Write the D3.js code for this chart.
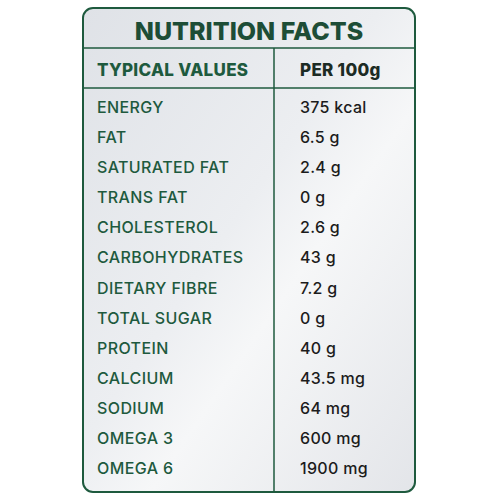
<!DOCTYPE html>
<html><head><meta charset="utf-8">
<script src="https://cdn.jsdelivr.net/npm/d3@7"></script>
<style>body{margin:0;background:#fff}</style>
</head><body>
<svg id="chart" width="500" height="500"></svg>
<script>
// nutrition table values
var nutrients = ["ENERGY","FAT","SATURATED FAT","TRANS FAT","CHOLESTEROL","CARBOHYDRATES","DIETARY FIBRE","TOTAL SUGAR","PROTEIN","CALCIUM","SODIUM","OMEGA 3","OMEGA 6"];
var amounts = ["375 kcal","6.5 g","2.4 g","0 g","2.6 g","43 g","7.2 g","0 g","40 g","43.5 mg","64 mg","600 mg","1900 mg"];
var headers = ["TYPICAL VALUES","PER 100g"];
var title = "NUTRITION FACTS";

var svg = d3.select("#chart");
var green = "#1e5a3e";

var defs = svg.append("defs");
var grad = defs.append("linearGradient").attr("id","bg").attr("x1","0").attr("y1","0").attr("x2","1").attr("y2","1");
grad.append("stop").attr("offset","0%").attr("stop-color","#dfe2e7");
grad.append("stop").attr("offset","45%").attr("stop-color","#eceef1");
grad.append("stop").attr("offset","60%").attr("stop-color","#f6f7f8");
grad.append("stop").attr("offset","100%").attr("stop-color","#e3e5e9");

svg.append("rect").attr("x",83).attr("y",8).attr("width",332).attr("height",484)
  .attr("rx",10).attr("fill","url(#bg)").attr("stroke",green).attr("stroke-width",2);

svg.append("text").attr("x",249).attr("y",40).attr("text-anchor","middle")
  .attr("font-family","Inter, 'Open Sans', sans-serif").attr("font-weight",800)
  .attr("font-size",25).attr("fill","#1d4d36").text(title);

svg.append("line").attr("x1",83).attr("x2",415).attr("y1",48).attr("y2",48).attr("stroke",green).attr("stroke-width",1.5);
svg.append("line").attr("x1",83).attr("x2",415).attr("y1",88).attr("y2",88).attr("stroke",green).attr("stroke-width",1.5);
svg.append("line").attr("x1",274).attr("x2",274).attr("y1",48).attr("y2",492).attr("stroke",green).attr("stroke-width",1.5);

var col = d3.scaleOrdinal().domain([0,1]).range([97,300]);
svg.selectAll("text.head").data(headers).join("text").attr("class","head")
  .attr("x",(d,i)=>col(i)).attr("y",76)
  .attr("font-family","Inter, 'Open Sans', sans-serif").attr("font-weight",800)
  .attr("font-size",17).attr("letter-spacing",0.3).attr("fill",(d,i)=>i?"#1c2b24":green).text(d=>d);

var y = d3.scaleLinear().domain([0,nutrients.length-1]).range([113,474]);
svg.selectAll("text.name").data(nutrients).join("text").attr("class","name")
  .attr("x",col(0)).attr("y",(d,i)=>y(i))
  .attr("font-family","Inter, 'Open Sans', sans-serif").attr("font-weight",500).attr("font-size",16)
  .attr("letter-spacing",0.4).attr("fill",green).text(d=>d);
svg.selectAll("text.val").data(amounts).join("text").attr("class","val")
  .attr("x",col(1)).attr("y",(d,i)=>y(i))
  .attr("font-family","Inter, 'Open Sans', sans-serif").attr("font-weight",500).attr("font-size",16)
  .attr("letter-spacing",0.3).attr("fill","#1c1c1c").text(d=>d);
</script>
</body></html>
